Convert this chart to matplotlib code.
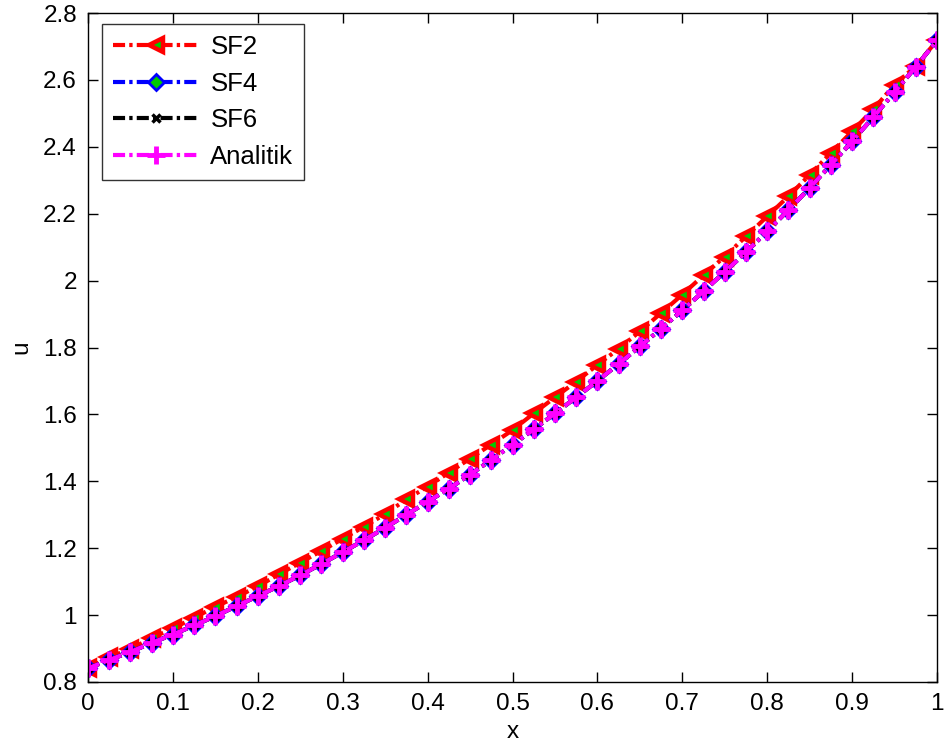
import matplotlib
matplotlib.use("Agg")
import matplotlib.pyplot as plt
import numpy as np

plt.rcParams['font.family'] = ['Liberation Sans', 'DejaVu Sans']

# grid points on [0, 1]
x = [0.000, 0.025, 0.050, 0.075, 0.100, 0.125, 0.150, 0.175, 0.200, 0.225,
     0.250, 0.275, 0.300, 0.325, 0.350, 0.375, 0.400, 0.425, 0.450, 0.475,
     0.500, 0.525, 0.550, 0.575, 0.600, 0.625, 0.650, 0.675, 0.700, 0.725,
     0.750, 0.775, 0.800, 0.825, 0.850, 0.875, 0.900, 0.925, 0.950, 0.975,
     1.000]

sf2 = [0.841, 0.875, 0.898, 0.932, 0.960, 0.992, 1.025, 1.054, 1.086, 1.122,
       1.157, 1.192, 1.228, 1.264, 1.302, 1.346, 1.384, 1.426, 1.468, 1.510,
       1.553, 1.603, 1.651, 1.698, 1.748, 1.796, 1.848, 1.903, 1.958, 2.016,
       2.072, 2.132, 2.192, 2.252, 2.316, 2.382, 2.446, 2.512, 2.586, 2.641,
       2.718]

sf4 = [0.841, 0.866, 0.890, 0.917, 0.942, 0.969, 0.997, 1.027, 1.057, 1.087,
       1.119, 1.153, 1.188, 1.224, 1.261, 1.300, 1.339, 1.378, 1.420, 1.464,
       1.509, 1.555, 1.603, 1.651, 1.700, 1.751, 1.803, 1.856, 1.911, 1.968,
       2.026, 2.085, 2.147, 2.211, 2.277, 2.346, 2.416, 2.489, 2.563, 2.639,
       2.718]

sf6 = [0.841, 0.866, 0.890, 0.917, 0.942, 0.969, 0.997, 1.027, 1.057, 1.087,
       1.119, 1.153, 1.188, 1.224, 1.261, 1.300, 1.339, 1.378, 1.420, 1.464,
       1.509, 1.555, 1.603, 1.651, 1.700, 1.751, 1.803, 1.856, 1.911, 1.968,
       2.026, 2.085, 2.147, 2.211, 2.277, 2.346, 2.416, 2.489, 2.563, 2.639,
       2.718]

analitik = [0.841, 0.866, 0.890, 0.917, 0.942, 0.969, 0.997, 1.027, 1.057, 1.087,
            1.119, 1.153, 1.188, 1.224, 1.261, 1.300, 1.339, 1.378, 1.420, 1.464,
            1.509, 1.555, 1.603, 1.651, 1.700, 1.751, 1.803, 1.856, 1.911, 1.968,
            2.026, 2.085, 2.147, 2.211, 2.277, 2.346, 2.416, 2.489, 2.563, 2.639,
            2.718]

x_ticks = [0, 0.1, 0.2, 0.3, 0.4, 0.5, 0.6, 0.7, 0.8, 0.9, 1]
x_tick_labels = ['0', '0.1', '0.2', '0.3', '0.4', '0.5', '0.6', '0.7', '0.8', '0.9', '1']
y_ticks = [0.8, 1.0, 1.2, 1.4, 1.6, 1.8, 2.0, 2.2, 2.4, 2.6, 2.8]
y_tick_labels = ['0.8', '1', '1.2', '1.4', '1.6', '1.8', '2', '2.2', '2.4', '2.6', '2.8']

fig = plt.figure(figsize=(9.47, 7.55), dpi=100)
ax = fig.add_axes([88 / 947, 1 - 682 / 755, (937 - 88) / 947, (682 - 13) / 755])

lw = 3.0
dash = (2.9, 1.0, 0.8, 1.0)

ax.plot(x, sf2, color='red', lw=lw, dashes=dash, marker='<', markersize=9.5,
        markerfacecolor='#00cc00', markeredgecolor='red', markeredgewidth=3.2,
        label='SF2')
ax.plot(x, sf4, color='blue', lw=lw, dashes=dash, marker='D', markersize=8,
        markerfacecolor='#00cc00', markeredgecolor='blue', markeredgewidth=2.0,
        label='SF4')
ax.plot(x, sf6, color='black', lw=lw, dashes=dash, marker='x', markersize=6,
        markeredgewidth=2.5, label='SF6')
ax.plot(x, analitik, color='magenta', lw=lw, dashes=dash, marker='+', markersize=13,
        markeredgewidth=3.5, label='Analitik')

ax.set_xlim(0, 1)
ax.set_ylim(0.8, 2.8)
ax.set_xticks(x_ticks)
ax.set_xticklabels(x_tick_labels)
ax.set_yticks(y_ticks)
ax.set_yticklabels(y_tick_labels)
ax.tick_params(direction='in', length=7, width=1, labelsize=17.5, top=True, right=True, pad=8)
for s in ax.spines.values():
    s.set_linewidth(1.0)

ax.set_xlabel('x', fontsize=17.5, labelpad=4)
ax.set_ylabel('u', fontsize=17.5, labelpad=8)

leg = ax.legend(loc='upper left', bbox_to_anchor=(14 / 849, 1 - 11 / 669), borderaxespad=0,
                fontsize=18.5, frameon=True, fancybox=False, edgecolor='black',
                handlelength=3.4, handletextpad=0.4, labelspacing=0.5, borderpad=0.42)
leg.get_frame().set_linewidth(1.0)

fig.savefig('out.png', dpi=100)
